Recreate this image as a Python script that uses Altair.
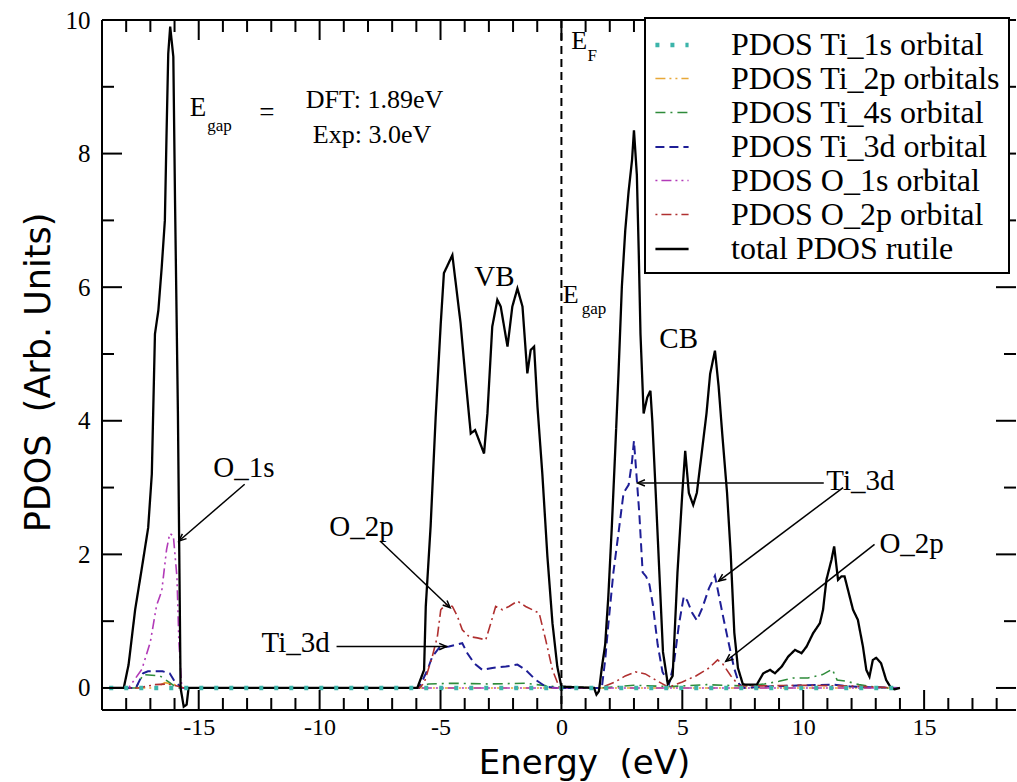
import math
import altair as alt
import pandas as pd

# ---------------- plot geometry ----------------
W, H = 914, 690
X_DOM = [-19, 18.8]
Y_DOM = [-0.33, 10]
KX = W / (X_DOM[1] - X_DOM[0])   # px per eV
KY = H / (Y_DOM[1] - Y_DOM[0])   # px per unit
NB = "\u00a0"

# ---------------- series ----------------
names = [
    "PDOS Ti_1s orbital",
    "PDOS Ti_2p orbitals",
    "PDOS Ti_4s orbital",
    "PDOS Ti_3d orbital",
    "PDOS O_1s orbital",
    "PDOS O_2p orbital",
    "total PDOS rutile",
]
colors = ["#3cb4aa", "#e8a838", "#2e8b3a", "#1e1e96", "#b23ab8", "#b03030", "#000000"]
dashes = [[4, 11], [10, 4, 2, 4, 2, 4], [10, 5, 2, 5], [9, 5], [2, 4, 10, 4, 2, 4], [2, 4, 10, 4], [1, 0]]
widths = [4.5, 1.6, 1.6, 2, 1.6, 1.6, 2.3]

ti1s_E = [-18.7, 14.0]
ti1s_v = [0, 0]

ti2p_E = [-18.7, -16.8, -16.4, -16.0, -15.7, 14.0]
ti2p_v = [0, 0, 0.08, 0.05, 0, 0]

ti4s_E = [-18.7, -17.6, -17.3, -16.6, -16.2, -15.9, -6.0, -5.5, -4.5, -3.0, -1.5, -0.3, 1.6,
          3.0, 4.5, 6.0, 7.5, 8.4, 9.0, 9.6, 10.2, 10.8, 11.2, 11.4, 11.8, 12.3, 12.8, 13.5, 14.0]
ti4s_v = [0, 0, 0.2, 0.18, 0.08, 0, 0, 0.06, 0.07, 0.06, 0.07, 0.02, 0,
          0.04, 0.02, 0.05, 0.03, 0.06, 0.1, 0.15, 0.15, 0.2, 0.28, 0.12, 0.1, 0.05, 0.02, 0, 0]

ti3d_E = [-18.7, -17.6, -17.3, -17.1, -16.5, -16.2, -16.0, -15.7, -6.0, -5.89, -5.54, -5.34,
          -5.06, -4.65, -4.1, -3.89, -3.61, -3.27, -2.86, -2.3, -1.82, -1.48, -1.06, -0.65,
          -0.23, 1.6, 1.67, 1.81, 1.94, 2.15, 2.36, 2.57, 2.78, 2.92, 3.0, 3.1, 3.22, 3.36,
          3.5, 3.64, 3.78, 3.98, 4.18, 4.45, 4.65, 4.86, 5.06, 5.2, 5.4, 5.6, 5.82, 6.1, 6.35,
          6.52, 6.72, 6.93, 7.14, 7.35, 7.56, 8.5, 10.0, 11.2, 12.0, 14.0]
ti3d_v = [0, 0, 0.22, 0.25, 0.25, 0.22, 0.1, 0, 0, 0, 0.27, 0.47,
          0.6, 0.62, 0.67, 0.52, 0.37, 0.27, 0.3, 0.32, 0.35, 0.27, 0.12, 0.02,
          0, 0, 0, 0.42, 0.95, 1.73, 2.32, 2.92, 3.04, 3.39, 3.7, 3.21, 2.62, 1.73,
          1.67, 1.55, 1.25, 0.65, 0.24, 0.06, 0.36, 0.95, 1.37, 1.31, 1.13, 1.01, 1.19, 1.49, 1.68,
          1.37, 1.01, 0.65, 0.3, 0.06, 0, 0.02, 0.04, 0.05, 0.02, 0]

o1s_E = [-18.7, -17.9, -17.35, -17.0, -16.74, -16.53, -16.33, -16.2, -16.05, -15.9, -15.82, -15.7, 14.0]
o1s_v = [0, 0, 0.28, 0.69, 1.24, 1.45, 2.07, 2.31, 2.28, 1.66, 0.69, 0, 0]

o2p_E = [-18.7, -17.5, -16.8, -16.3, -15.9, -15.6, -6.0, -5.89, -5.68, -5.34, -5.13, -4.99,
         -4.79, -4.51, -4.3, -4.1, -3.82, -3.48, -3.13, -2.92, -2.72, -2.44, -2.17, -1.82,
         -1.48, -1.2, -0.92, -0.65, -0.37, -0.1, 1.6, 2.22, 2.64, 3.06, 3.47, 3.89, 4.44,
         5.0, 5.56, 6.11, 6.46, 6.67, 7.01, 7.36, 8.0, 10.0, 12.0, 14.0]
o2p_v = [0, 0, 0.05, 0.06, 0.03, 0, 0, 0, 0.07, 0.47, 0.77, 1.17,
         1.25, 1.22, 1.07, 0.87, 0.77, 0.75, 0.72, 0.97, 1.22, 1.17, 1.22, 1.3,
         1.22, 1.17, 1.12, 0.72, 0.27, 0.02, 0, 0.09, 0.18, 0.24, 0.21, 0.12, 0.01,
         0.09, 0.18, 0.3, 0.42, 0.36, 0.18, 0.03, 0.03, 0.04, 0.03, 0]

total_E = [-18.7, -18.1, -17.9, -17.63, -17.35, -17.09, -16.94, -16.81, -16.67, -16.53, -16.4,
           -16.33, -16.26, -16.18, -16.05, -15.98, -15.86, -15.75, -15.62, -15.5, -15.42,
           -6.1, -5.96, -5.68, -5.61, -5.41, -5.2, -4.99, -4.86, -4.51, -4.17, -3.96, -3.75,
           -3.57, -3.41, -3.2, -3.06, -2.86, -2.65, -2.51, -2.23, -2.03, -1.82, -1.61, -1.41,
           -1.27, -1.13, -0.99, -0.79, -0.58, -0.37, -0.17, 0.0,
           1.35, 1.45, 1.55, 1.67, 1.81, 1.94, 2.08, 2.22, 2.36, 2.5, 2.64, 2.78, 2.92, 3.0,
           3.12, 3.2, 3.27, 3.4, 3.55, 3.68, 3.76, 3.9, 4.05, 4.2, 4.4, 4.6, 4.8, 5.0, 5.12,
           5.27, 5.45, 5.6, 5.8, 6.0, 6.15, 6.35, 6.5, 6.65, 6.85, 7.0, 7.15, 7.3, 7.5,
           7.6, 8.08, 8.35, 8.63, 8.83, 9.11, 9.38, 9.66, 9.93, 10.14, 10.41, 10.69, 10.82,
           10.96, 11.17, 11.28, 11.44, 11.58, 11.71, 11.85, 12.06, 12.26, 12.47, 12.61, 12.74,
           12.88, 13.02, 13.22, 13.43, 13.63, 13.77, 14.0]
total_v = [0, 0, 0.35, 1.17, 1.8, 2.4, 3.2, 5.3, 5.65, 6.3, 7.0,
           8.3, 9.5, 9.9, 9.45, 7.3, 4.1, 0.0, -0.28, -0.25, 0.0,
           0, 0, 0.27, 1.22, 2.42, 4.06, 5.46, 6.21, 6.48, 5.46, 4.61, 3.81,
           3.86, 3.71, 3.51, 4.11, 5.41, 5.81, 5.71, 5.11, 5.71, 5.98, 5.71, 4.71,
           5.06, 5.11, 4.21, 3.21, 1.97, 0.97, 0.32, 0.02,
           0.0, -0.1, -0.05, 0.3, 0.65, 1.37, 2.38, 3.51, 4.7, 6.01, 6.85, 7.44, 7.9, 8.35,
           7.68, 6.49, 5.3, 4.11, 4.35, 4.45, 3.99, 2.92, 1.73, 0.54, 0.06, 0.18, 1.73, 2.92, 3.55,
           2.92, 2.74, 2.92, 3.51, 4.11, 4.7, 5.05, 4.52, 3.81, 2.92, 2.02, 0.83, 0.3, 0.06,
           0.05, 0.05, 0.22, 0.27, 0.22, 0.32, 0.47, 0.57, 0.52, 0.62, 0.82, 0.97, 1.17,
           1.62, 1.92, 2.12, 1.62, 1.67, 1.67, 1.47, 1.17, 1.02, 0.62, 0.27, 0.17,
           0.42, 0.45, 0.37, 0.12, 0.0, -0.02, 0.0]


def series_frame(items):
    rows = []
    for order, (nm, es, vs) in enumerate(items):
        for i, (e, v) in enumerate(zip(es, vs)):
            rows.append({"series": nm, "E": e, "v": v, "k": order * 1000 + i})
    return pd.DataFrame(rows)


df_orb = series_frame([
    (names[1], ti2p_E, ti2p_v),
    (names[2], ti4s_E, ti4s_v),
    (names[3], ti3d_E, ti3d_v),
    (names[4], o1s_E, o1s_v),
    (names[5], o2p_E, o2p_v),
])
df_tot = series_frame([(names[6], total_E, total_v)])
df_ti1s = series_frame([(names[0], ti1s_E, ti1s_v)])

# ---------------- annotations ----------------
txt_label = ["O_1s", "O_2p", "Ti_3d", "Ti_3d", "O_2p", "VB", "CB",
             "E", "gap", "=", "DFT: 1.89eV", "Exp: 3.0eV",
             "E", "F", "E", "gap"]
txt_E = [-14.4, -9.6, -12.4, 10.95, 13.15, -3.6, 4.05,
         -15.37, -14.65, -12.5, -10.57, -10.28,
         0.41, 1.08, 0.05, 0.84]
txt_v = [3.3, 2.41, 0.68, 3.1, 2.15, 6.15, 5.22,
         8.69, 8.42, 8.61, 8.8, 8.28,
         9.68, 9.46, 5.88, 5.68]
txt_fs = [29, 29, 29, 29, 29, 29, 29,
          27, 17, 27, 26, 26,
          26, 17, 26, 17]
df_txt = pd.DataFrame({"label": txt_label, "E": txt_E, "v": txt_v, "fs": txt_fs})

arr_x1 = [-13.1, -7.5, -9.3, 10.85, 11.65, 12.95]
arr_y1 = [3.05, 2.2, 0.62, 3.07, 3.0, 2.15]
arr_x2 = [-15.82, -4.6, -4.75, 3.15, 6.5, 6.8]
arr_y2 = [2.2, 1.2, 0.62, 3.07, 1.6, 0.4]
arr_ang = [math.degrees(math.atan2((b - a) * KX, (d - c) * KY)) % 360
           for a, b, c, d in zip(arr_x1, arr_x2, arr_y1, arr_y2)]
df_arr = pd.DataFrame({"x1": arr_x1, "y1": arr_y1, "x2": arr_x2, "y2": arr_y2, "ang": arr_ang})

# tick positions (drawn inward on all sides)
x_minor = [t for t in range(-18, 19) if t % 5 != 0]
x_major = [-15, -10, -5, 0, 5, 10, 15]
y_minor = [1, 3, 5, 7, 9]
y_major = [0, 2, 4, 6, 8]

xs = alt.Scale(domain=X_DOM, nice=False, zero=False)
ys = alt.Scale(domain=Y_DOM, nice=False, zero=False)

x_axis = alt.Axis(values=x_major, ticks=False, domain=False, grid=False,
                  labelExpr="'' + datum.value", labelFont="Liberation Serif",
                  labelFontSize=24, labelColor="black", labelPadding=5, labelOverlap=False,
                  title="Energy" + NB + NB + "(eV)", titleFont="DejaVu Sans", titleFontSize=34,
                  titleFontWeight="normal", titleColor="black", titleX=482, titleY=63,
                  titleAlign="center", titleBaseline="alphabetic")
y_axis = alt.Axis(values=[0, 2, 4, 6, 8, 10], ticks=False, domain=False, grid=False,
                  labelExpr="'' + datum.value", labelFont="Liberation Serif",
                  labelFontSize=25, labelColor="black", labelPadding=12, labelOverlap=False,
                  title="PDOS" + NB + NB + "(Arb." + NB + "Units)", titleFont="DejaVu Sans",
                  titleFontSize=35, titleFontWeight="normal", titleColor="black",
                  titleX=-64, titleY=352, titleAngle=270, titleAlign="center",
                  titleBaseline="middle")


def X(field):
    return alt.X(field, scale=xs, axis=x_axis)


def Y(field):
    return alt.Y(field, scale=ys, axis=y_axis)


leg = alt.Legend(title=None, orient="none", legendX=543, legendY=-2, direction="vertical",
                 symbolType="stroke", symbolSize=1100, labelFont="Liberation Serif",
                 labelFontSize=32, labelColor="black", labelLimit=600, labelOffset=40,
                 padding=8, rowPadding=0, strokeColor="black", fillColor="white")

enc_series = dict(
    color=alt.Color("series:N", scale=alt.Scale(type="ordinal", domain=names, range=colors), legend=leg),
    strokeDash=alt.StrokeDash("series:N", scale=alt.Scale(type="ordinal", domain=names, range=dashes), legend=leg),
    strokeWidth=alt.StrokeWidth("series:N", scale=alt.Scale(type="ordinal", domain=names, range=widths), legend=leg),
)

orb_lines = alt.Chart(df_orb).mark_line(strokeCap="butt").encode(
    x=X("E:Q"), y=Y("v:Q"), order="k:Q", **enc_series)
tot_line = alt.Chart(df_tot).mark_line(strokeCap="butt").encode(
    x=X("E:Q"), y=Y("v:Q"), order="k:Q", **enc_series)
ti1s_line = alt.Chart(df_ti1s).mark_line(strokeCap="butt").encode(
    x=X("E:Q"), y=Y("v:Q"), order="k:Q", **enc_series)

fermi = alt.Chart(pd.DataFrame({"E": [0]})).mark_rule(
    color="black", strokeWidth=2, strokeDash=[8, 5]).encode(
    x=X("E:Q"), y=alt.value(0), y2=alt.value(H))

texts = alt.Chart(df_txt).mark_text(align="left", baseline="middle",
                                    font="Liberation Serif", color="black").encode(
    x=X("E:Q"), y=Y("v:Q"), text="label:N", size=alt.Size("fs:Q", scale=None))

arrows = alt.Chart(df_arr).mark_rule(color="black", strokeWidth=1.5).encode(
    x=X("x1:Q"), x2="x2:Q", y=Y("y1:Q"), y2="y2:Q")
heads = alt.Chart(df_arr).mark_point(
    shape="M -0.6 1.4 L 0 0 L 0.6 1.4", filled=False, size=110,
    strokeWidth=1.5, color="black", opacity=1).encode(
    x=X("x2:Q"), y=Y("y2:Q"), angle=alt.Angle("ang:Q", scale=None))


def xticks(vals, y0, y1):
    return alt.Chart(pd.DataFrame({"t": vals})).mark_rule(color="black", strokeWidth=2).encode(
        x=X("t:Q"), y=alt.value(y0), y2=alt.value(y1))


def yticks(vals, x0, x1):
    return alt.Chart(pd.DataFrame({"t": vals})).mark_rule(color="black", strokeWidth=2).encode(
        y=Y("t:Q"), x=alt.value(x0), x2=alt.value(x1))


ticks = [
    xticks(x_minor, H, H - 12), xticks(x_major, H, H - 20),
    xticks(x_minor, 0, 12), xticks(x_major, 0, 20),
    yticks(y_minor, 0, 12), yticks(y_major, 0, 20),
    yticks(y_minor, W, W - 12), yticks(y_major, W, W - 20),
]

frame_src = pd.DataFrame({"d": [0]})
frame = [
    alt.Chart(frame_src).mark_rule(color="black", strokeWidth=2).encode(
        x=alt.value(0), y=alt.value(0), y2=alt.value(H)),
    alt.Chart(frame_src).mark_rule(color="black", strokeWidth=2).encode(
        x=alt.value(0), x2=alt.value(W), y=alt.value(0)),
    alt.Chart(frame_src).mark_rule(color="black", strokeWidth=2).encode(
        x=alt.value(0), x2=alt.value(W), y=alt.value(H)),
]

chart = alt.layer(orb_lines, tot_line, ti1s_line, fermi, arrows, heads, texts,
                  *ticks, *frame).properties(
    width=W, height=H,
    padding={"left": 102, "top": 20, "right": 1, "bottom": 72},
    autosize="none",
    background="white",
).configure_view(stroke=None).configure_legend(strokeWidth=2)

chart.save("out.html", embed_options={"renderer": "svg", "actions": False})
